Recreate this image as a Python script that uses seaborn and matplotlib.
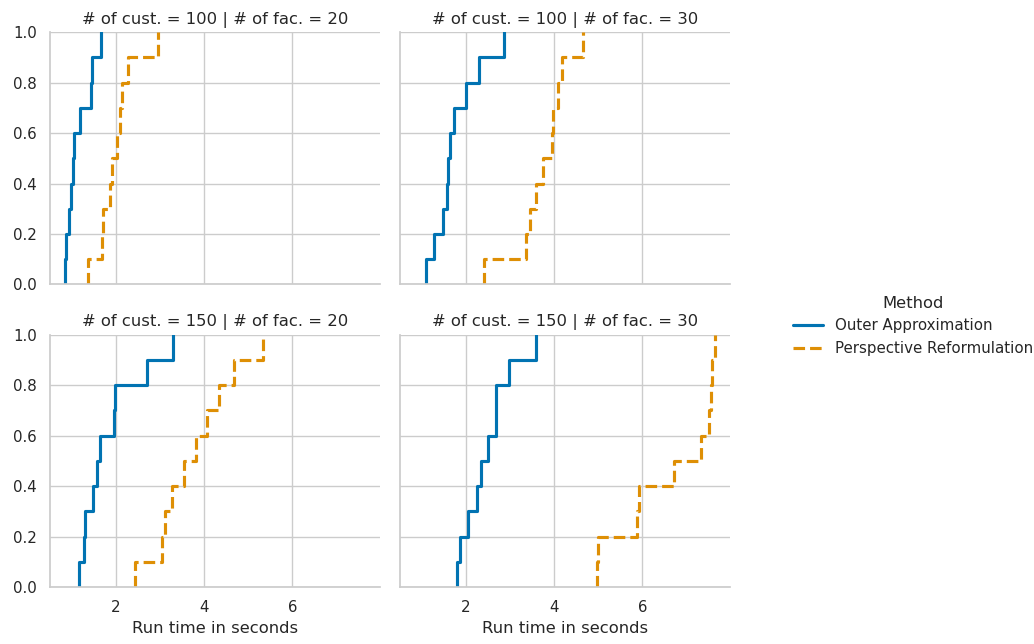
import matplotlib
matplotlib.use("Agg")
import matplotlib.pyplot as plt
import seaborn as sns
import pandas as pd

methods = ["Outer Approximation", "Perspective Reformulation"]
customers = [100, 150]
facilities = [20, 30]

# run times (seconds), 10 instances per configuration
oa_100_20 = [0.84, 0.86, 0.92, 0.97, 1.01, 1.04, 1.18, 1.42, 1.46, 1.66]
pr_100_20 = [1.36, 1.68, 1.70, 1.86, 1.90, 2.02, 2.09, 2.13, 2.28, 2.96]
oa_100_30 = [1.10, 1.27, 1.48, 1.56, 1.58, 1.64, 1.72, 2.00, 2.30, 2.86]
pr_100_30 = [2.41, 3.36, 3.45, 3.58, 3.75, 3.94, 3.98, 4.09, 4.17, 4.65]
oa_150_20 = [1.16, 1.28, 1.30, 1.48, 1.56, 1.64, 1.94, 1.97, 2.70, 3.29]
pr_150_20 = [2.42, 3.05, 3.10, 3.27, 3.55, 3.81, 4.06, 4.33, 4.67, 5.33]
oa_150_30 = [1.80, 1.87, 2.05, 2.25, 2.33, 2.50, 2.67, 2.69, 2.97, 3.58]
pr_150_30 = [4.97, 4.99, 5.87, 5.93, 6.72, 7.33, 7.52, 7.55, 7.59, 7.65]

series = {
    (100, 20): (oa_100_20, pr_100_20),
    (100, 30): (oa_100_30, pr_100_30),
    (150, 20): (oa_150_20, pr_150_20),
    (150, 30): (oa_150_30, pr_150_30),
}

rows = []
for (c, f), (oa, pr) in series.items():
    for m, vals in zip(methods, (oa, pr)):
        for v in vals:
            rows.append({"# of cust.": c, "# of fac.": f, "Method": m,
                         "Run time in seconds": v})
df = pd.DataFrame(rows)

sns.set_theme(style="whitegrid", palette="colorblind", context="notebook",
              font_scale=0.98)
plt.rcParams["font.family"] = ["DejaVu Sans"]

g = sns.FacetGrid(df, row="# of cust.", col="# of fac.", hue="Method",
                  hue_order=methods, hue_kws={"ls": ["-", "--"]},
                  height=3, aspect=1.3)
g.map(sns.ecdfplot, "Run time in seconds", linewidth=2.25)
g.set_axis_labels("Run time in seconds", "")
g.add_legend(title="Method")

g.figure.set_size_inches(10.34, 6.44)
g.figure.subplots_adjust(left=0.0484, right=0.706, top=0.950, bottom=0.0885,
                         wspace=0.06, hspace=0.2)
g._legend.set_bbox_to_anchor((1.012, 0.494), transform=g.figure.transFigure)
g.figure.savefig("out.png", dpi=100)
